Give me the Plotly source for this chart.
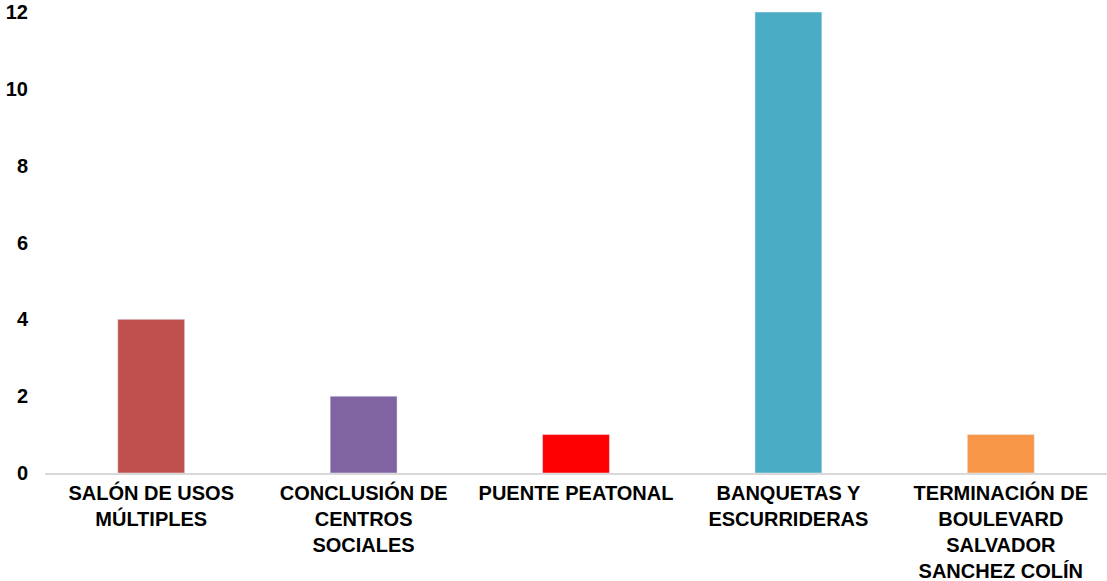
import plotly.graph_objects as go

categories = [
    "SALÓN DE USOS<br>MÚLTIPLES",
    "CONCLUSIÓN DE<br>CENTROS<br>SOCIALES",
    "PUENTE PEATONAL",
    "BANQUETAS Y<br>ESCURRIDERAS",
    "TERMINACIÓN DE<br>BOULEVARD<br>SALVADOR<br>SANCHEZ COLÍN",
]
values = [4, 2, 1, 12, 1]
bar_colors = ["#C0504D", "#8064A2", "#FF0000", "#4BACC6", "#F79646"]
y_ticks = [0, 2, 4, 6, 8, 10, 12]

fig = go.Figure(go.Bar(
    x=categories,
    y=values,
    marker_color=bar_colors,
    width=0.315,
))

fig.update_layout(
    width=1107,
    height=581,
    plot_bgcolor='white',
    paper_bgcolor='white',
    font=dict(family='Liberation Sans, Arial, sans-serif', size=20, color='black'),
    margin=dict(l=45, r=0, t=12, b=108),
    showlegend=False,
)
fig.update_xaxes(showline=True, linecolor='#d9d9d9', linewidth=2, showgrid=False,
                 automargin=False, ticklabelstandoff=1,
                 tickfont=dict(size=20, family='Liberation Sans, Arial, sans-serif', weight='bold'))
fig.update_yaxes(range=[0, 12], tickvals=y_ticks, showgrid=False, zeroline=False,
                 automargin=False, ticklabelstandoff=16, ticklabeloverflow='allow',
                 tickfont=dict(size=20, family='Liberation Sans, Arial, sans-serif', weight='bold'))

# drop the default 8px body margin so the figure sits at the page corner
fig.write_html("out.html", config={'displayModeBar': False},
               post_script="document.body.style.margin='0';")
